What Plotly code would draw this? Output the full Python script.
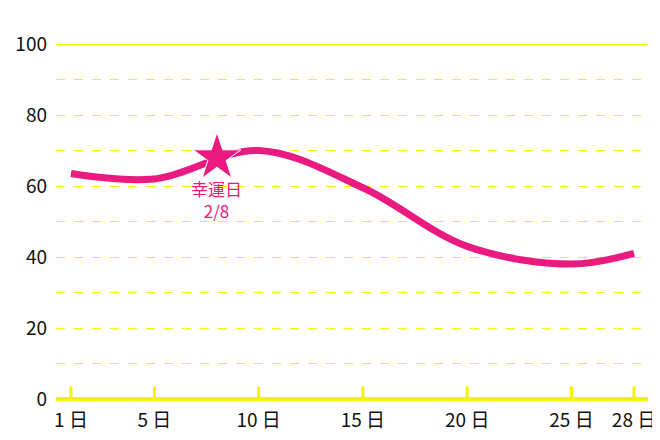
import plotly.graph_objects as go

days = [1, 5, 10, 15, 20, 25, 28]
values = [63.5, 62, 70, 59.5, 43, 38, 41]
tick_labels = ["1 日", "5 日", "10 日", "15 日", "20 日", "25 日", "28 日"]
lucky_day = 8
lucky_value = 68
lucky_label = "幸運日<br>2/8"

PINK = "#ea1a80"
YEL = "#f5f500"

fig = go.Figure()
fig.add_trace(go.Scatter(x=days, y=values, mode="lines",
                         line=dict(color=PINK, width=7, shape="spline", smoothing=1.0),
                         hoverinfo="skip"))
fig.add_trace(go.Scatter(x=days, y=[0]*len(days), mode="markers",
                         marker=dict(symbol="line-ns", size=18, line=dict(color=YEL, width=3)),
                         hoverinfo="skip"))
fig.add_trace(go.Scatter(x=[lucky_day], y=[lucky_value], mode="markers",
                         marker=dict(symbol="star", size=36, color=PINK, line=dict(color="white", width=1)),
                         hoverinfo="skip"))
fig.add_annotation(x=lucky_day, y=lucky_value, text=lucky_label, showarrow=False,
                   yshift=-42, font=dict(color=PINK, size=17, family="Noto Sans CJK JP"))
fig.add_shape(type="line", xref="paper", x0=0, x1=1, yref="y", y0=100, y1=100,
              line=dict(color=YEL, width=2), layer="below")

fig.update_layout(
    width=660, height=440, showlegend=False,
    margin=dict(l=48, r=20, t=36, b=49, autoexpand=False),
    plot_bgcolor="white", paper_bgcolor="white",
    font=dict(family="Noto Sans CJK JP", color="#111", size=19),
    xaxis=dict(range=[0.28, 28.67], tickvals=days, ticktext=tick_labels, showgrid=False,
               zeroline=False, showline=False, ticks="", ticklabelstandoff=8, automargin=False),
    yaxis=dict(range=[0, 100], tickvals=[0, 20, 40, 60, 80, 100], showgrid=True,
               gridcolor=YEL, griddash="dash", gridwidth=1.2,
               minor=dict(dtick=10, showgrid=True, gridcolor=YEL, griddash="dash", gridwidth=1.2),
               zeroline=True, zerolinecolor=YEL, zerolinewidth=4,
               ticks="", ticklabelstandoff=8, automargin=False),
)
fig.write_html("out.html")
